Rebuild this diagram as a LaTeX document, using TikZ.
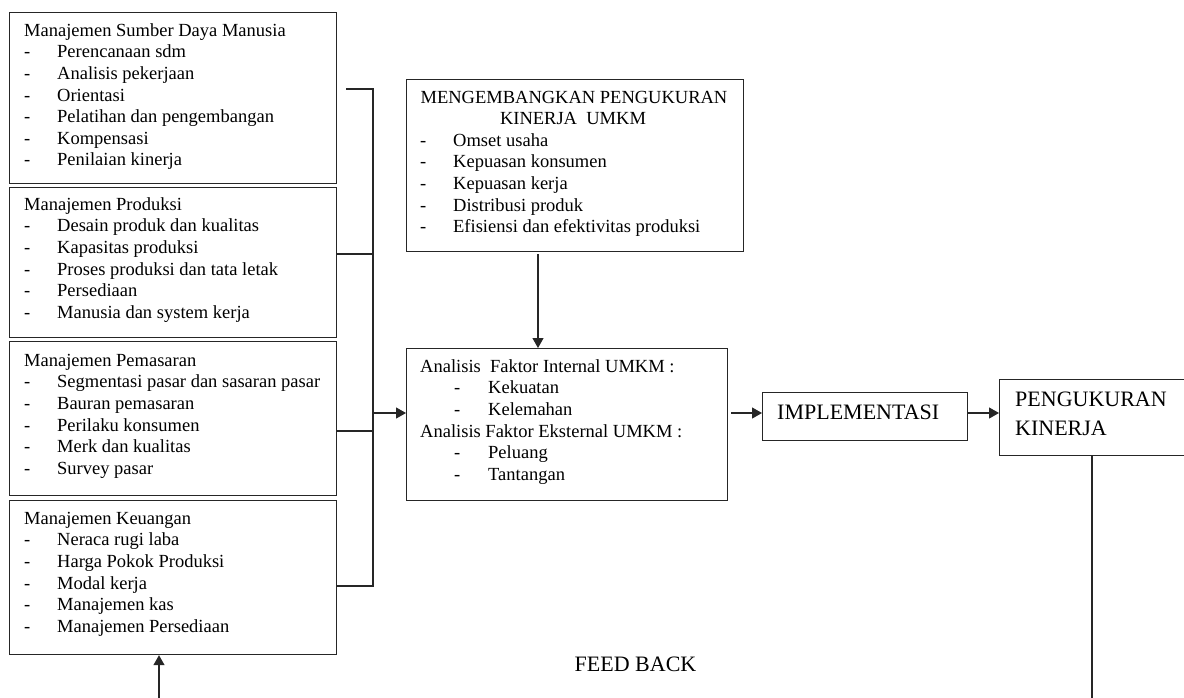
\documentclass[tikz,border=0pt]{standalone}
\usepackage{fontspec}
\setmainfont{Liberation Serif}
\usetikzlibrary{arrows.meta}
\tikzset{
  frame/.style={draw=black!85, line width=1.2pt, inner sep=0pt, anchor=north west},
  conn/.style={draw=black!85, line width=1.2pt},
  arr/.style={conn, -{Triangle[length=10pt,width=11pt]}},
  body/.style={inner sep=0pt, anchor=north west, font=\fontsize{18.5}{21.6}\selectfont},
  bodyc/.style={inner sep=0pt, anchor=base, font=\fontsize{18.5}{21.6}\selectfont},
  big/.style={inner sep=0pt, anchor=base west, font=\fontsize{22}{29}\selectfont},
}
\newcommand\itm[1]{\makebox[33pt][l]{-}#1}
\newcommand\subitm[1]{\hspace{34pt}\makebox[34pt][l]{-}#1}
\begin{document}
\begin{tikzpicture}[x=1pt,y=-1pt]
\useasboundingbox (0,0) rectangle (1184,697);

% left boxes
\node[frame, minimum width=327pt, minimum height=171pt] (sdm) at (9,12) {};
\node[frame, minimum width=327pt, minimum height=150pt] (prod) at (9,187) {};
\node[frame, minimum width=327pt, minimum height=154pt] (pem) at (9,341) {};
\node[frame, minimum width=327pt, minimum height=154pt] (keu) at (9,500) {};

\node[body] (sdmT) at (24,36-15.12) {\begin{tabular}{@{}l@{}}
Manajemen Sumber Daya Manusia\\
\itm{Perencanaan sdm}\\
\itm{Analisis pekerjaan}\\
\itm{Orientasi}\\
\itm{Pelatihan dan pengembangan}\\
\itm{Kompensasi}\\
\itm{Penilaian kinerja}
\end{tabular}};

\node[body] (prodT) at (24,210-15.12) {\begin{tabular}{@{}l@{}}
Manajemen Produksi\\
\itm{Desain produk dan kualitas}\\
\itm{Kapasitas produksi}\\
\itm{Proses produksi dan tata letak}\\
\itm{Persediaan}\\
\itm{Manusia dan system kerja}
\end{tabular}};

\node[body] (pemT) at (24,366-15.12) {\begin{tabular}{@{}l@{}}
Manajemen Pemasaran\\
\itm{Segmentasi pasar dan sasaran pasar}\\
\itm{Bauran pemasaran}\\
\itm{Perilaku konsumen}\\
\itm{Merk dan kualitas}\\
\itm{Survey pasar}
\end{tabular}};

\node[body] (keuT) at (24,524-15.12) {\begin{tabular}{@{}l@{}}
Manajemen Keuangan\\
\itm{Neraca rugi laba}\\
\itm{Harga Pokok Produksi}\\
\itm{Modal kerja}\\
\itm{Manajemen kas}\\
\itm{Manajemen Persediaan}
\end{tabular}};

% top middle box
\node[frame, minimum width=337pt, minimum height=172pt] (dev) at (406,79) {};
\node[bodyc] (devT1) at (574,103) {MENGEMBANGKAN PENGUKURAN};
\node[bodyc] (devT2) at (573,124) {KINERJA\ \ UMKM};
\node[body] (devT) at (420,146-15.12) {\begin{tabular}{@{}l@{}}
\itm{Omset usaha}\\
\itm{Kepuasan konsumen}\\
\itm{Kepuasan kerja}\\
\itm{Distribusi produk}\\
\itm{Efisiensi dan efektivitas produksi}
\end{tabular}};

% analysis box
\node[frame, minimum width=321pt, minimum height=152pt] (ana) at (406,348) {};
\node[body] (anaT) at (420,372-15.12) {\begin{tabular}{@{}l@{}}
Analisis\ \ Faktor Internal UMKM :\\
\subitm{Kekuatan}\\
\subitm{Kelemahan}\\
Analisis Faktor Eksternal UMKM :\\
\subitm{Peluang}\\
\subitm{Tantangan}
\end{tabular}};

% implementasi
\node[frame, minimum width=205pt, minimum height=48pt] (impl) at (762,392) {};
\node[big] (implT) at (777,419) {IMPLEMENTASI};

% pengukuran kinerja (runs past the right edge)
\node[frame, minimum width=210pt, minimum height=76pt] (pk) at (999,379) {};
\node[big] (pkT1) at (1015,406) {PENGUKURAN};
\node[big] (pkT2) at (1015,435) {KINERJA};

% feedback
\node[inner sep=0pt, anchor=base, font=\fontsize{22}{29}\selectfont] (fbT) at (635.5,671) {FEED BACK};
\coordinate (fbR) at (1092,700);
\coordinate (fbL) at (159,700);

% connectors
\coordinate (bus) at (373,89);
\draw[conn] ([xshift=9pt]sdm.east |- 0,89) -- (bus) -- (373,586) -- (keu.east |- 0,586);
\draw[conn] (prod.east |- 0,254) -- (373,254);
\draw[conn] (pem.east |- 0,431) -- (373,431);
\draw[arr] (373,413) -- (ana.west |- 0,413);
\draw[arr] (538,254) -- (538,0 |- ana.north);
\draw[arr] ([xshift=3pt]ana.east |- 0,413) -- (impl.west |- 0,413);
\draw[arr] (impl.east |- 0,413) -- (pk.west |- 0,413);
\draw[conn] (fbR |- pk.south) -- (fbR);
\draw[arr] (fbL) -- (fbL |- keu.south);
\end{tikzpicture}
\end{document}
